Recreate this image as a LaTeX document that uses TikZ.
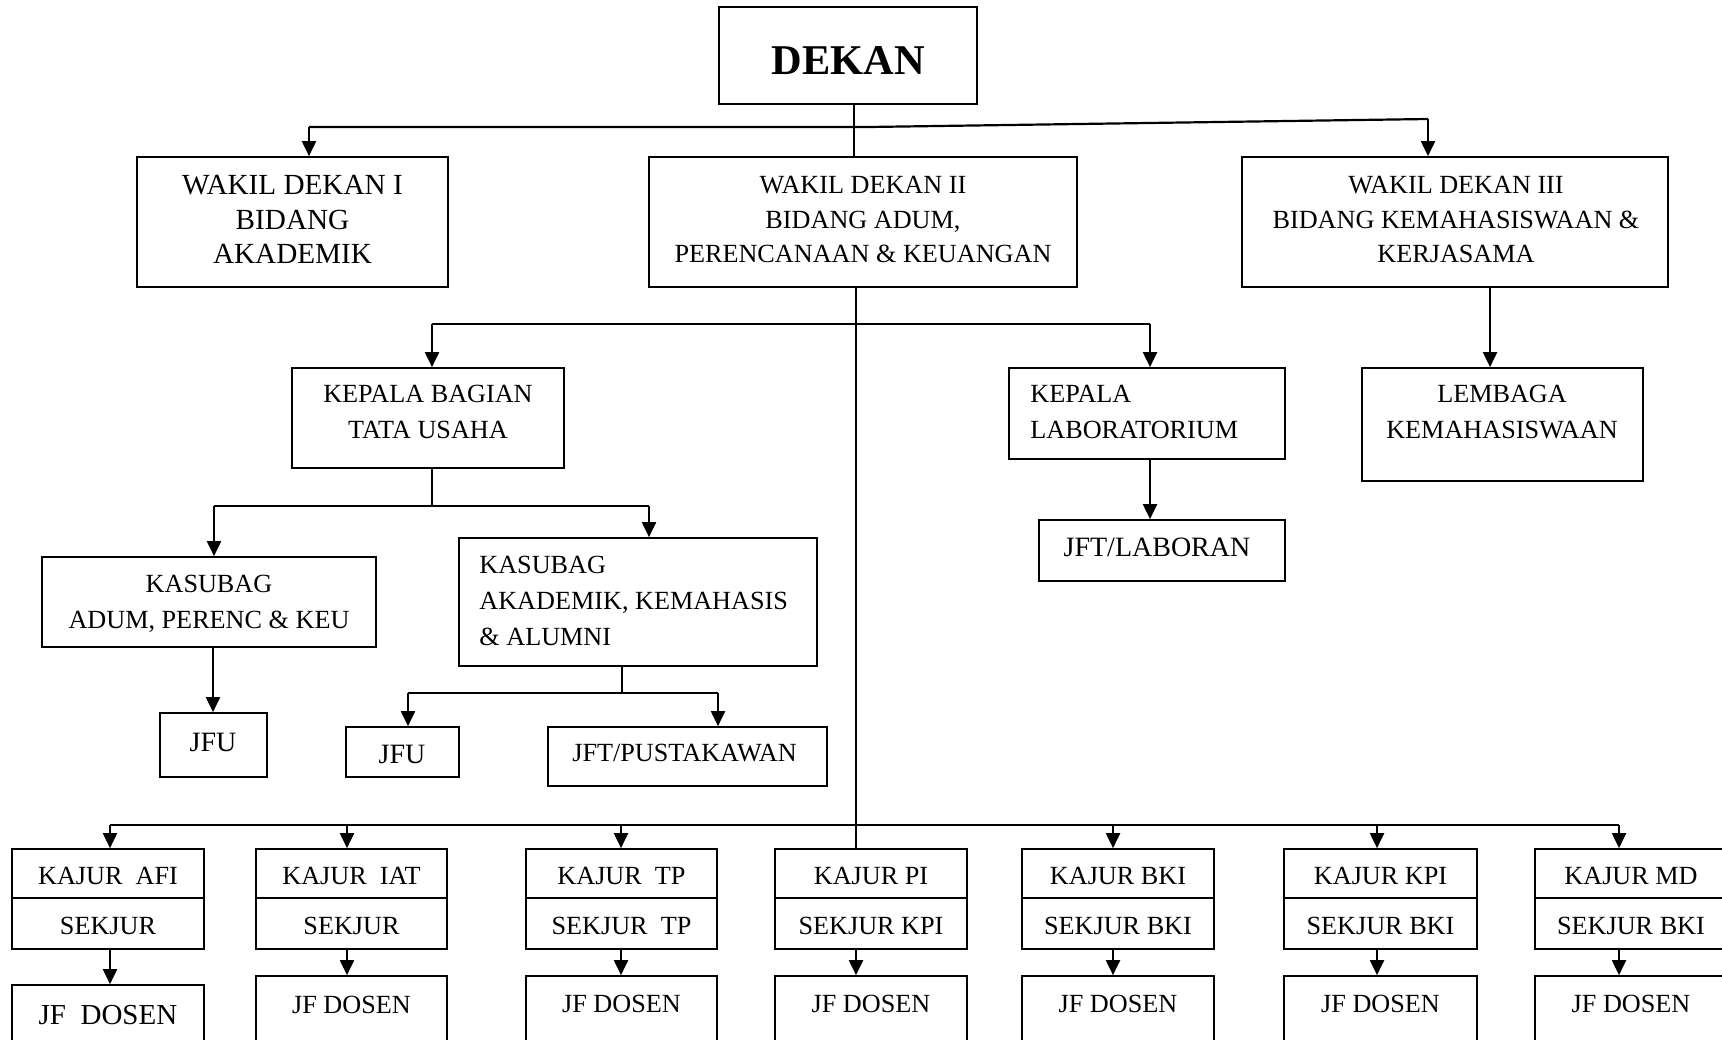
\documentclass[tikz,border=0pt]{standalone}
\usepackage{fontspec}
\setmainfont{Liberation Serif}
\usetikzlibrary{arrows.meta}
\newcommand{\orgbox}[5]{\node[box, minimum width={(#4-#2)*0.5pt}, minimum height={(#5-#3)*0.5pt}] (#1) at ({(#2+#4)/2},{(#3+#5)/2}) {};}
\newcommand{\jcol}[9]{%
  \orgbox{k#1}{#2}{849}{#3}{898}
  \orgbox{s#1}{#2}{898}{#3}{949}
  \orgbox{j#1}{#2}{#7}{#3}{1090}
  \node[txt, anchor=north] (kt#1) at ({(#2+#3)/2},867) {#5};
  \node[txt, anchor=north] (st#1) at ({(#2+#3)/2},917) {#6};
  \node[txt, anchor=north] (jt#1) at ({(#2+#3)/2},#8) {#9};
  \coordinate (b#1) at (#4,825);
  \draw[arr] (s#1.south -| b#1) -- (j#1.north -| b#1);
}
\begin{document}
\begin{tikzpicture}[x=0.5pt,y=-0.5pt,
  box/.style={draw, line width=0.85pt, inner sep=0pt, rectangle},
  txt/.style={inner sep=0pt, align=center, font=\fontsize{13.1}{18}\selectfont},
  txtl/.style={inner sep=0pt, align=left, font=\fontsize{13.1}{18}\selectfont},
  txtw/.style={inner sep=0pt, align=center, font=\fontsize{13.1}{17.25}\selectfont},
  arr/.style={line width=1pt, -{Triangle[length=7.5pt,width=7pt]}},
  bus/.style={line width=1.1pt},
  thinl/.style={line width=0.55pt},
  midl/.style={line width=0.8pt},
]
\useasboundingbox (0,0) rectangle (1722,1039);
\clip (0,0) rectangle (1722,1039);

% ---- top level
\orgbox{dekan}{719}{7}{977}{104}
\node[inner sep=0pt, anchor=north, font=\fontsize{21.2}{24}\selectfont\bfseries] (dekant) at (848.5,46) {DEKAN};

\orgbox{wd1}{137}{157}{448}{287}
\node[txtw, anchor=north, font=\fontsize{14.6}{17.25}\selectfont] (wd1t) at (292.5,175) {WAKIL DEKAN I\\BIDANG\\AKADEMIK};
\orgbox{wd2}{649}{157}{1077}{287}
\node[txtw, anchor=north] (wd2t) at (863,176) {WAKIL DEKAN II\\BIDANG ADUM,\\PERENCANAAN \& KEUANGAN};
\orgbox{wd3}{1242}{157}{1668}{287}
\node[txtw, anchor=north] (wd3t) at (1456,176) {WAKIL DEKAN III\\BIDANG KEMAHASISWAAN \&\\KERJASAMA};

% ---- second level
\orgbox{kb}{292}{368}{564}{468}
\node[txt, anchor=north] (kbt) at (428,385) {KEPALA BAGIAN\\TATA USAHA};
\orgbox{klab}{1009}{368}{1285}{459}
\node[txtl, anchor=north west] (klabt) at (1030,385) {KEPALA\\LABORATORIUM};
\orgbox{lemb}{1362}{368}{1643}{481}
\node[txt, anchor=north] (lembt) at (1502,385) {LEMBAGA\\KEMAHASISWAAN};
\orgbox{jftl}{1039}{520}{1285}{581}
\node[txt, anchor=north, font=\fontsize{14}{18}\selectfont] (jftlt) at (1157,538) {JFT/LABORAN};

% ---- kasubag level
\orgbox{ksa}{42}{557}{376}{647}
\node[txt, anchor=north] (ksat) at (209,575) {KASUBAG\\ADUM, PERENC \& KEU};
\orgbox{ksk}{459}{538}{817}{666}
\node[txtl, anchor=north west] (kskt) at (479,556) {KASUBAG\\AKADEMIK, KEMAHASIS\\\& ALUMNI};
\orgbox{jfu1}{160}{713}{267}{777}
\node[txt, anchor=north, font=\fontsize{14}{18}\selectfont] (jfu1t) at (213,733) {JFU};
\orgbox{jfu2}{346}{727}{459}{777}
\node[txt, anchor=north, font=\fontsize{14}{18}\selectfont] (jfu2t) at (402,745) {JFU};
\orgbox{jftp}{548}{727}{827}{786}
\node[txt, anchor=north] (jftpt) at (684.5,744) {JFT/PUSTAKAWAN};

% ---- jurusan columns
\jcol{AFI}{12}{204}{110}{KAJUR~ AFI}{SEKJUR}{985}{1005}{\fontsize{14.5}{18}\selectfont JF~ DOSEN}
\jcol{IAT}{256}{447}{347}{KAJUR~ IAT}{SEKJUR}{976}{996}{JF DOSEN}
\jcol{TP}{526}{717}{621}{KAJUR~ TP}{SEKJUR~ TP}{976}{995}{JF DOSEN}
\jcol{PI}{775}{967}{856}{KAJUR PI}{SEKJUR KPI}{976}{995}{JF DOSEN}
\jcol{BKI}{1022}{1214}{1113}{KAJUR BKI}{SEKJUR BKI}{976}{995}{JF DOSEN}
\jcol{KPI}{1284}{1477}{1377}{KAJUR KPI}{SEKJUR BKI}{976}{995}{JF DOSEN}
\jcol{MD}{1535}{1727}{1619}{KAJUR MD}{SEKJUR BKI}{976}{995}{JF DOSEN}

% ---- connectors: top
\coordinate (t0) at (854,127);
\coordinate (t1) at (309,127);
\coordinate (t2) at (868,127);
\coordinate (t3) at (1428,119);
\draw[thinl] (dekan.south -| t0) -- (wd2.north -| t0);
\draw[bus] (t1) -- (t2) -- (t3);
\draw[arr] (t1) -- (t1 |- wd1.north);
\draw[arr] (t3) -- (t3 |- wd3.north);

% ---- WD II branch
\coordinate (m1) at (432,324);
\coordinate (m0) at (855,324);
\coordinate (m2) at (1150,324);
\draw[bus] (m1) -- (m0) -- (m2);
\draw[arr] (m1) -- (m1 |- kb.north);
\draw[arr] (m2) -- (m2 |- klab.north);
\draw[midl] (wd2.south -| bPI) -- (kPI.north -| bPI);

% ---- WD III branch
\coordinate (l1) at (1490,300);
\draw[arr] (wd3.south -| l1) -- (lemb.north -| l1);

% ---- Kepala Bagian branch
\coordinate (k0) at (432,506);
\coordinate (k1) at (214,506);
\coordinate (k2) at (649,506);
\draw[thinl] (kb.south -| k0) -- (k0);
\draw[bus] (k1) -- (k2);
\draw[arr] (k1) -- (k1 |- ksa.north);
\draw[arr] (k2) -- (k2 |- ksk.north);

\coordinate (u0) at (213,700);
\draw[arr] (ksa.south -| u0) -- (jfu1.north -| u0);

\coordinate (a0) at (622,693);
\coordinate (a1) at (408,693);
\coordinate (a2) at (718,693);
\draw[thinl] (ksk.south -| a0) -- (a0);
\draw[bus] (a1) -- (a2);
\draw[arr] (a1) -- (a1 |- jfu2.north);
\draw[arr] (a2) -- (a2 |- jftp.north);

% ---- Lab branch
\draw[arr] (klab.south -| m2) -- (jftl.north -| m2);

% ---- bottom bus
\draw[bus] (bAFI) -- (bMD);
\foreach \c in {AFI,IAT,TP,BKI,KPI,MD}{
  \draw[arr] (b\c) -- (b\c |- k\c.north);
}
\end{tikzpicture}
\end{document}
